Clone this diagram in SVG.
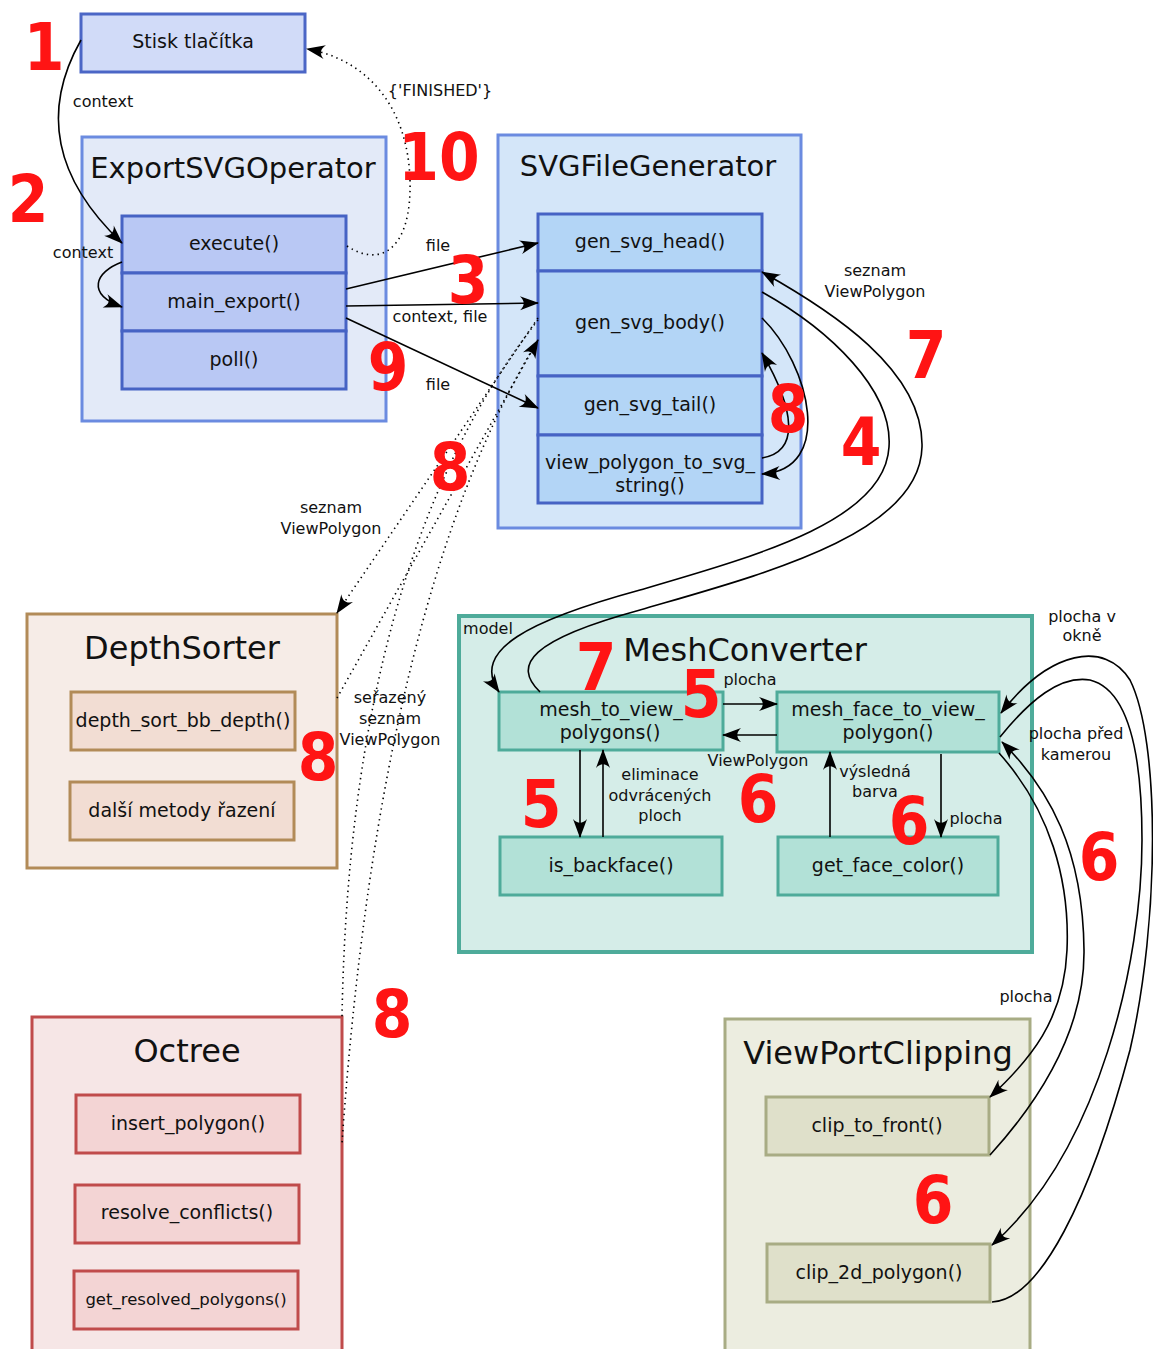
<svg xmlns="http://www.w3.org/2000/svg" width="1153" height="1349" viewBox="0 0 1153 1349">
  <defs>
    <style>
      .t { font-family: "DejaVu Sans", Verdana, sans-serif; fill: #111; text-anchor: middle; }
      .m { font-size: 19px; }
      .ttl { font-size: 32px; }
      .ttl2 { font-size: 29px; }
      .lb { font-size: 16px; }
      .num { font-family: "DejaVu Sans Condensed", "DejaVu Sans", sans-serif; font-weight: bold; font-size: 65px; fill: #ff1414; text-anchor: middle; }
      .c { fill: none; stroke: #000; stroke-width: 1.6; }
      .d { fill: none; stroke: #000; stroke-width: 1.6; stroke-dasharray: 1.4 4; }
      .blue-o { fill: #e3eaf8; stroke: #6b8be0; stroke-width: 3; }
      .blue-o2 { fill: #d4e6f9; stroke: #6b8be0; stroke-width: 3; }
      .blue-i { fill: #b9c8f4; stroke: #4663c4; stroke-width: 3; }
      .blue-i2 { fill: #b3d5f6; stroke: #4663c4; stroke-width: 3; }
      .tan-o { fill: #f6ece7; stroke: #b28b58; stroke-width: 3; }
      .tan-i { fill: #f2ddd3; stroke: #b28b58; stroke-width: 3; }
      .red-o { fill: #f6e6e6; stroke: #c04b4b; stroke-width: 3; }
      .red-i { fill: #f3d4d4; stroke: #c04b4b; stroke-width: 3; }
      .teal-o { fill: #d5ede8; stroke: #4eab9a; stroke-width: 4; }
      .teal-i { fill: #b2e1d7; stroke: #4eab9a; stroke-width: 3; }
      .olive-o { fill: #ecede0; stroke: #a8ac84; stroke-width: 3; }
      .olive-i { fill: #dfe0ca; stroke: #a8ac84; stroke-width: 3; }
    </style>
    <!-- concave "Arrow2"-style head, tip at the path end -->
    <marker id="ah" markerUnits="userSpaceOnUse" markerWidth="22" markerHeight="18" viewBox="-20 -9 22 18" refX="0" refY="0" orient="auto" overflow="visible">
      <path d="M1,0 L-18,-7 C-13,-2.5 -13,2.5 -18,7 Z" fill="#000"/>
    </marker>
  </defs>

  <rect width="1153" height="1349" fill="#fff"/>

  <!-- nodes -->
  <g id="stisk-tlacitka">
    <rect x="81" y="14" width="224" height="58" fill="#d1dbf8" stroke="#4b66c6" stroke-width="3"/>
    <text class="t m" x="193" y="48">Stisk tlačítka</text>
  </g>

  <g id="export-svg-operator">
    <rect class="blue-o" x="82" y="137" width="304" height="284"/>
    <text class="t ttl2" x="233" y="178">ExportSVGOperator</text>
    <g id="execute">
      <rect class="blue-i" x="122" y="216" width="224" height="57"/>
      <text class="t m" x="234" y="250">execute()</text>
    </g>
    <g id="main-export">
      <rect class="blue-i" x="122" y="273" width="224" height="58"/>
      <text class="t m" x="234" y="308">main_export()</text>
    </g>
    <g id="poll">
      <rect class="blue-i" x="122" y="331" width="224" height="58"/>
      <text class="t m" x="234" y="366">poll()</text>
    </g>
  </g>

  <g id="svg-file-generator">
    <rect class="blue-o2" x="498" y="135" width="303" height="393"/>
    <text class="t ttl2" x="648" y="176">SVGFileGenerator</text>
    <g id="gen-svg-head">
      <rect class="blue-i2" x="538" y="214" width="224" height="57"/>
      <text class="t m" x="650" y="248">gen_svg_head()</text>
    </g>
    <g id="gen-svg-body">
      <rect class="blue-i2" x="538" y="271" width="224" height="105"/>
      <text class="t m" x="650" y="329">gen_svg_body()</text>
    </g>
    <g id="gen-svg-tail">
      <rect class="blue-i2" x="538" y="376" width="224" height="59"/>
      <text class="t m" x="650" y="411">gen_svg_tail()</text>
    </g>
    <g id="view-polygon-to-svg-string">
      <rect class="blue-i2" x="538" y="435" width="224" height="68"/>
      <text class="t m" x="650" y="469">view_polygon_to_svg_</text>
      <text class="t m" x="650" y="492">string()</text>
    </g>
  </g>

  <g id="depth-sorter">
    <rect class="tan-o" x="27" y="614" width="310" height="254"/>
    <text class="t ttl" x="182" y="659">DepthSorter</text>
    <g id="depth-sort-bb-depth">
      <rect class="tan-i" x="71" y="692" width="224" height="58"/>
      <text class="t m" x="183" y="727">depth_sort_bb_depth()</text>
    </g>
    <g id="dalsi-metody-razeni">
      <rect class="tan-i" x="70" y="782" width="224" height="58"/>
      <text class="t m" x="182" y="817">další metody řazení</text>
    </g>
  </g>

  <g id="octree">
    <rect class="red-o" x="32" y="1017" width="310" height="345"/>
    <text class="t ttl" x="187" y="1062">Octree</text>
    <g id="insert-polygon">
      <rect class="red-i" x="76" y="1095" width="224" height="58"/>
      <text class="t m" x="188" y="1130">insert_polygon()</text>
    </g>
    <g id="resolve-conflicts">
      <rect class="red-i" x="75" y="1185" width="224" height="58"/>
      <text class="t m" x="187" y="1219">resolve_conflicts()</text>
    </g>
    <g id="get-resolved-polygons">
      <rect class="red-i" x="74" y="1271" width="224" height="58"/>
      <text class="t" x="186" y="1305" font-size="16.5">get_resolved_polygons()</text>
    </g>
  </g>

  <g id="mesh-converter">
    <rect class="teal-o" x="459" y="616" width="573" height="336"/>
    <text class="t ttl" x="745" y="661">MeshConverter</text>
    <g id="mesh-to-view-polygons">
      <rect class="teal-i" x="499" y="692" width="224" height="58"/>
      <text class="t m" x="611" y="716">mesh_to_view_</text>
      <text class="t m" x="610" y="739">polygons()</text>
    </g>
    <g id="mesh-face-to-view-polygon">
      <rect class="teal-i" x="777" y="692" width="222" height="60"/>
      <text class="t m" x="888" y="716">mesh_face_to_view_</text>
      <text class="t m" x="888" y="739">polygon()</text>
    </g>
    <g id="is-backface">
      <rect class="teal-i" x="500" y="837" width="222" height="58"/>
      <text class="t m" x="611" y="872">is_backface()</text>
    </g>
    <g id="get-face-color">
      <rect class="teal-i" x="778" y="837" width="220" height="58"/>
      <text class="t m" x="888" y="872">get_face_color()</text>
    </g>
  </g>

  <g id="viewport-clipping">
    <rect class="olive-o" x="725" y="1019" width="305" height="340"/>
    <text class="t ttl" x="878" y="1064">ViewPortClipping</text>
    <g id="clip-to-front">
      <rect class="olive-i" x="766" y="1097" width="223" height="58"/>
      <text class="t m" x="877" y="1132">clip_to_front()</text>
    </g>
    <g id="clip-2d-polygon">
      <rect class="olive-i" x="767" y="1244" width="223" height="58"/>
      <text class="t m" x="879" y="1279">clip_2d_polygon()</text>
    </g>
  </g>

  <!-- connectors -->
  <g id="connectors">
    <path class="c" d="M81,40 C47,100 45,170 122,243" marker-end="url(#ah)"/>
    <path class="c" d="M122,262 C95,272 86,294 122,307" marker-end="url(#ah)"/>
    <path class="d" d="M347,246 C380,268 412,250 410,180 C408,110 370,60 307,49" marker-end="url(#ah)"/>

    <path class="c" d="M346,289 L538,243" marker-end="url(#ah)"/>
    <path class="c" d="M346,306 L538,303" marker-end="url(#ah)"/>
    <path class="c" d="M346,318 L538,408" marker-end="url(#ah)"/>

    <path class="d" d="M538,318 L337,613" marker-end="url(#ah)"/>
    <path class="d" d="M337,698 L538,340" marker-end="url(#ah)"/>
    <path class="d" d="M538,320 Q350,560 342,1017"/>
    <path class="d" d="M538,340 Q380,600 342,1143"/>

    <path class="c" d="M762,318 C810,365 835,470 762,474" marker-end="url(#ah)"/>
    <path class="c" d="M762,458 C800,452 795,410 762,353" marker-end="url(#ah)"/>

    <path class="c" d="M540,692 C512,665 530,640 640,610 C760,575 920,535 922,447 C924,370 830,310 762,272" marker-end="url(#ah)"/>
    <path class="c" d="M762,292 C830,330 893,390 889,447 C885,520 760,555 640,590 C530,620 470,650 499,692" marker-end="url(#ah)"/>

    <path class="c" d="M723,704 L777,704" marker-end="url(#ah)"/>
    <path class="c" d="M777,735 L723,735" marker-end="url(#ah)"/>
    <path class="c" d="M580,750 L580,837" marker-end="url(#ah)"/>
    <path class="c" d="M603,837 L603,750" marker-end="url(#ah)"/>
    <path class="c" d="M830,837 L830,752" marker-end="url(#ah)"/>
    <path class="c" d="M941,754 L941,837" marker-end="url(#ah)"/>

    <path class="c" d="M999,753 C1050,810 1070,880 1067,950 C1064,1020 1030,1060 990,1097" marker-end="url(#ah)"/>
    <path class="c" d="M990,1155 C1040,1100 1085,1030 1084,950 C1083,850 1050,790 1002,742" marker-end="url(#ah)"/>
    <path class="c" d="M1000,737 C1030,700 1060,675 1090,680 C1130,690 1142,760 1142,840 C1142,960 1100,1150 992,1245" marker-end="url(#ah)"/>
    <path class="c" d="M992,1302 C1040,1300 1090,1200 1130,1050 C1160,920 1160,740 1130,680 C1105,640 1050,650 1001,713" marker-end="url(#ah)"/>

    <!-- connector labels -->
    <text class="t lb" x="103" y="107">context</text>
    <text class="t lb" x="83" y="258">context</text>
    <text class="t lb" x="440" y="96">{'FINISHED'}</text>
    <text class="t lb" x="438" y="251">file</text>
    <text class="t lb" x="440" y="322">context, file</text>
    <text class="t lb" x="438" y="390">file</text>
    <text class="t lb" x="875" y="276">seznam</text>
    <text class="t lb" x="875" y="297">ViewPolygon</text>
    <text class="t lb" x="331" y="513">seznam</text>
    <text class="t lb" x="331" y="534">ViewPolygon</text>
    <text class="t lb" x="390" y="703">seřazený</text>
    <text class="t lb" x="390" y="724">seznam</text>
    <text class="t lb" x="390" y="745">ViewPolygon</text>
    <text class="t lb" x="488" y="634">model</text>
    <text class="t lb" x="750" y="685">plocha</text>
    <text class="t lb" x="758" y="766">ViewPolygon</text>
    <text class="t lb" x="660" y="780">eliminace</text>
    <text class="t lb" x="660" y="801">odvrácených</text>
    <text class="t lb" x="660" y="821">ploch</text>
    <text class="t lb" x="875" y="777">výsledná</text>
    <text class="t lb" x="875" y="797">barva</text>
    <text class="t lb" x="976" y="824">plocha</text>
    <text class="t lb" x="1082" y="622">plocha v</text>
    <text class="t lb" x="1082" y="641">okně</text>
    <text class="t lb" x="1076" y="739">plocha před</text>
    <text class="t lb" x="1076" y="760">kamerou</text>
    <text class="t lb" x="1026" y="1002">plocha</text>
  </g>

  <!-- step numbers -->
  <g id="steps">
    <text class="num" x="44" y="70">1</text>
    <text class="num" x="28" y="222">2</text>
    <text class="num" x="439" y="180">10</text>
    <text class="num" x="468" y="303">3</text>
    <text class="num" x="388" y="390">9</text>
    <text class="num" x="450" y="490">8</text>
    <text class="num" x="788" y="432">8</text>
    <text class="num" x="926" y="378">7</text>
    <text class="num" x="861" y="465">4</text>
    <text class="num" x="596" y="690">7</text>
    <text class="num" x="701" y="717">5</text>
    <text class="num" x="318" y="780">8</text>
    <text class="num" x="541" y="827">5</text>
    <text class="num" x="758" y="822">6</text>
    <text class="num" x="909" y="844">6</text>
    <text class="num" x="1099" y="880">6</text>
    <text class="num" x="392" y="1037">8</text>
    <text class="num" x="933" y="1223">6</text>
  </g>
</svg>
